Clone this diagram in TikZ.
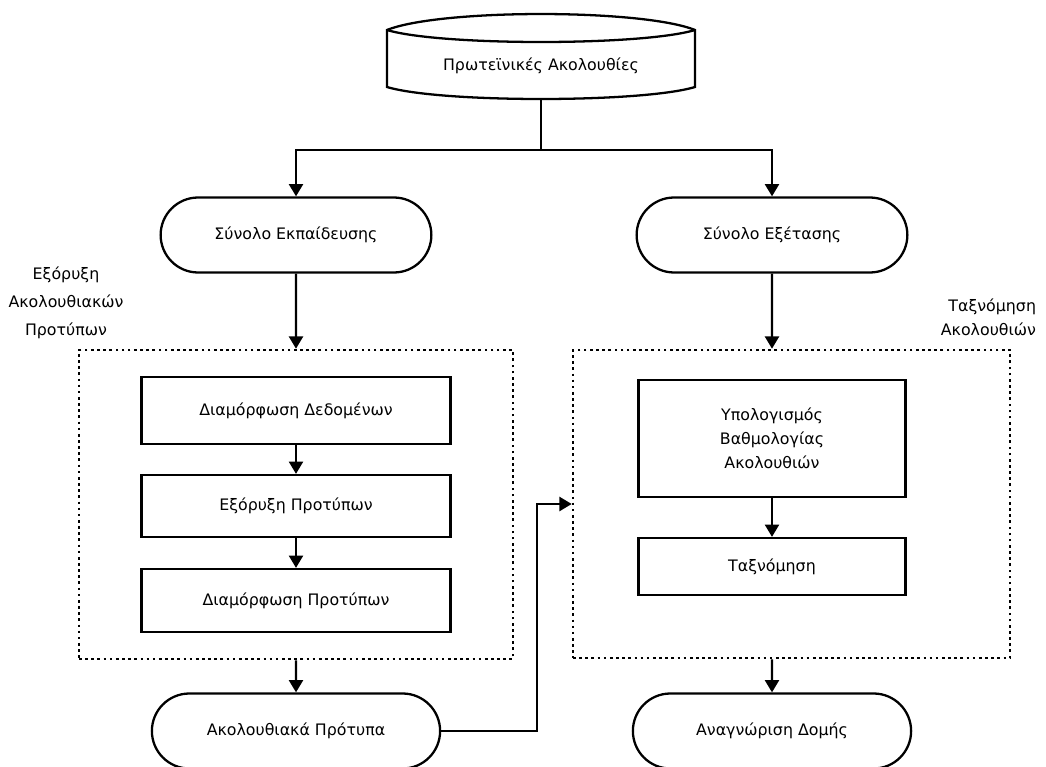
\documentclass[tikz,border=0pt]{standalone}
\usepackage{fontspec}
\setmainfont{DejaVu Sans}
\usetikzlibrary{shapes.misc,arrows.meta}

\begin{document}
\begin{tikzpicture}[x=0.02cm, y=-0.02cm, line width=1.3pt, font=\fontsize{9}{13.6}\selectfont,
        >={Triangle[length=7pt,width=8pt]},
        term/.style = {draw, rounded rectangle, minimum width=5.65cm, minimum height=1.5cm},
        proc/.style = {draw, rectangle, align=center, minimum width=6.18cm, minimum height=1.3cm},
        grp/.style = {draw, rectangle, line width=1.5pt, dash pattern=on 1.5pt off 2pt}]
        \useasboundingbox (0,0) rectangle (1046,767);

        \draw (387,87) -- (387,30) .. controls (440,8.7) and (642,8.7) .. (695,30) -- (695,87) .. controls (642,103) and (440,103) .. cycle;
        \draw (387,30) .. controls (440,46) and (642,46) .. (695,30);
        \node (1) at (541,66) {Πρωτεϊνικές Ακολουθίες};
        \coordinate (0) at (541,99);
        \coordinate (j) at (541,150);

        \node[term] (2) at (296,235) {Σύνολο Εκπαίδευσης};
        \node[term] (3) at (772,235) {Σύνολο Εξέτασης};

        \node[grp, minimum width=8.68cm, minimum height=6.18cm] (4) at (296,504.5) {};
        \node[grp, minimum width=8.74cm, minimum height=6.16cm] (5) at (791.5,504) {};

        \node[proc, minimum height=1.34cm] (6) at (296,410.5) {Διαμόρφωση Δεδομένων};
        \node[proc, minimum height=1.24cm] (7) at (296,506) {Εξόρυξη Προτύπων};
        \node[proc, minimum height=1.26cm] (8) at (296,600.5) {Διαμόρφωση Προτύπων};

        \node[proc, minimum width=5.34cm, minimum height=2.34cm] (9) at (772,438.5) {Υπολογισμός\\Βαθμολογίας\\Ακολουθιών};
        \node[proc, minimum width=5.34cm, minimum height=1.14cm] (10) at (772,566.5) {Ταξνόμηση};

        \node[term, minimum width=6cm] (11) at (296,731) {Ακολουθιακά Πρότυπα};
        \node[term, minimum width=5.8cm] (12) at (772,731) {Αναγνώριση Δομής};

        \node[align=center, font=\fontsize{9}{15.9}\selectfont] (13) at (66,303) {Εξόρυξη\\Ακολουθιακών\\Προτύπων};
        \node[align=right, anchor=east] (14) at (1043,317) {Ταξνόμηση\\Ακολουθιών};

        \draw (0) -- (j);
        \draw[->] (j) -| (2);
        \draw[->] (j) -| (3);
        \draw[->] (2) -- (2 |- 4.north);
        \draw[->] (3) -- (3 |- 5.north);
        \draw[->] (6) -- (7);
        \draw[->] (7) -- (8);
        \draw[->] (9.south) -- (10.north);
        \draw[->] (4.south -| 11) -- (11);
        \draw[->] (5.south -| 12) -- (12);
        \draw[->] (11.east) -- ++(96,0) |- (5.west);

    \end{tikzpicture}
\end{document}
